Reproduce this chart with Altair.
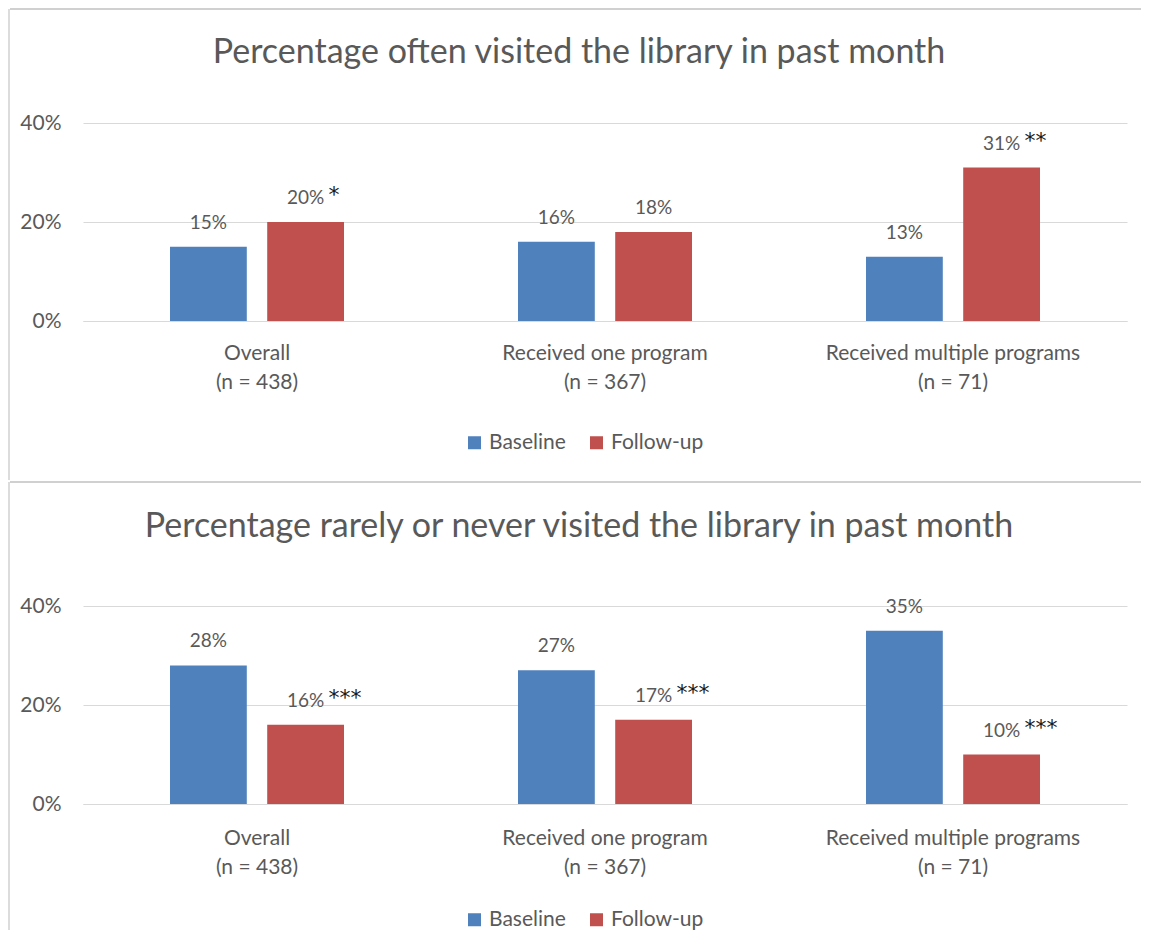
import altair as alt
import pandas as pd

# ---------------- data ----------------
categories = ["Overall", "Received one program", "Received multiple programs"]
sample_sizes = [438, 367, 71]
series = ["Baseline", "Follow-up"]
series_colors = ["#4F81BD", "#C0504D"]
y_ticks = [0, 20, 40]

title_often = "Percentage often visited the library in past month"
often_baseline = [15, 16, 13]
often_followup = [20, 18, 31]
often_followup_stars = ["*", "", "**"]

title_rarely = "Percentage rarely or never visited the library in past month"
rarely_baseline = [28, 27, 35]
rarely_followup = [16, 17, 10]
rarely_followup_stars = ["***", "***", " ***"]

# ---------------- style ----------------
FONT = "Lato"
GRAY = "#595959"
GRID = "#d9d9d9"
FRAME = "#d0d0d0"
W, H = 1044, 198

group_labels = [f"{c}|(n = {n})" for c, n in zip(categories, sample_sizes)]


def make_df(base_vals, follow_vals, follow_stars):
    rows = []
    for g, b, f, st in zip(group_labels, base_vals, follow_vals, follow_stars):
        rows.append(dict(group=g, series=series[0], value=b, label=f"{b}%", stars=""))
        rows.append(dict(group=g, series=series[1], value=f, label=f"{f}%", stars=st))
    return pd.DataFrame(rows)


def panel(title, base_vals, follow_vals, follow_stars, frame_top, title_y,
          frame_bottom, legend_y, label_pad):
    df = make_df(base_vals, follow_vals, follow_stars)
    base = alt.Chart(df).encode(
        x=alt.X(
            "group:N", sort=group_labels, title=None,
            scale=alt.Scale(paddingInner=0.5, paddingOuter=0.25),
            axis=alt.Axis(
                labelExpr="split(datum.label, '|')", labelFont=FONT,
                labelFontSize=21, labelColor=GRAY, labelLineHeight=29,
                labelBaseline="top", labelPadding=label_pad, labelLimit=0,
                labelAngle=0, ticks=False, domainColor=GRID, domainWidth=1,
            ),
        ),
        xOffset=alt.XOffset("series:N", sort=series,
                            scale=alt.Scale(paddingInner=0.21, paddingOuter=0)),
        y=alt.Y(
            "value:Q", title=None, scale=alt.Scale(domain=[0, 40]),
            axis=alt.Axis(
                values=y_ticks, labelExpr="datum.value + '%'", grid=True,
                gridColor=GRID, gridWidth=1, domain=False, ticks=False,
                labelPadding=22, labelFont=FONT, labelFontSize=21,
                labelColor=GRAY,
            ),
        ),
    )
    bars = base.mark_bar().encode(
        color=alt.Color(
            "series:N", sort=series,
            scale=alt.Scale(domain=series, range=series_colors),
            legend=alt.Legend(
                orient="none", legendX=381, legendY=legend_y,
                direction="horizontal", title=None, symbolType="square",
                symbolSize=169, symbolStrokeWidth=0, symbolOpacity=1,
                labelFont=FONT, labelFontSize=21, labelColor=GRAY,
                labelOffset=4, columnPadding=20,
            ),
        )
    )
    labels = base.mark_text(
        font=FONT, fontSize=19, color=GRAY, baseline="alphabetic", dy=-18
    ).encode(text="label:N")
    stars = base.mark_text(
        font="DejaVu Sans", fontSize=22, color="#1a1a1a", align="left",
        baseline="alphabetic", dx=23, dy=-20
    ).encode(text="stars:N")

    one = alt.Chart(pd.DataFrame({"t": [title]}))
    title_mark = one.mark_text(
        font=FONT, fontSize=34, color=GRAY, align="center", baseline="alphabetic"
    ).encode(text="t:N", x=alt.value(496), y=alt.value(title_y))
    top_line = one.mark_rule(color=FRAME, strokeWidth=2).encode(
        x=alt.value(-73), x2=alt.value(1058), y=alt.value(frame_top)
    )
    left_line = one.mark_rule(color=FRAME, strokeWidth=1.5).encode(
        x=alt.value(-74), y=alt.value(frame_top), y2=alt.value(frame_bottom)
    )
    return alt.layer(top_line, left_line, title_mark, bars, labels, stars).properties(
        width=W, height=H
    )


top = panel(title_often, often_baseline, often_followup, often_followup_stars,
            frame_top=-114, title_y=-60, frame_bottom=357, legend_y=309,
            label_pad=21)
bottom = panel(title_rarely, rarely_baseline, rarely_followup, rarely_followup_stars,
               frame_top=-124, title_y=-69, frame_bottom=324, legend_y=303,
               label_pad=23)

chart = (
    alt.vconcat(top, bottom, spacing=0)
    .resolve_legend(color="independent")
    .properties(padding=0, background="white")
    .configure_view(strokeWidth=0)
)

chart.save("out.html", embed_options={"renderer": "svg", "actions": False})
